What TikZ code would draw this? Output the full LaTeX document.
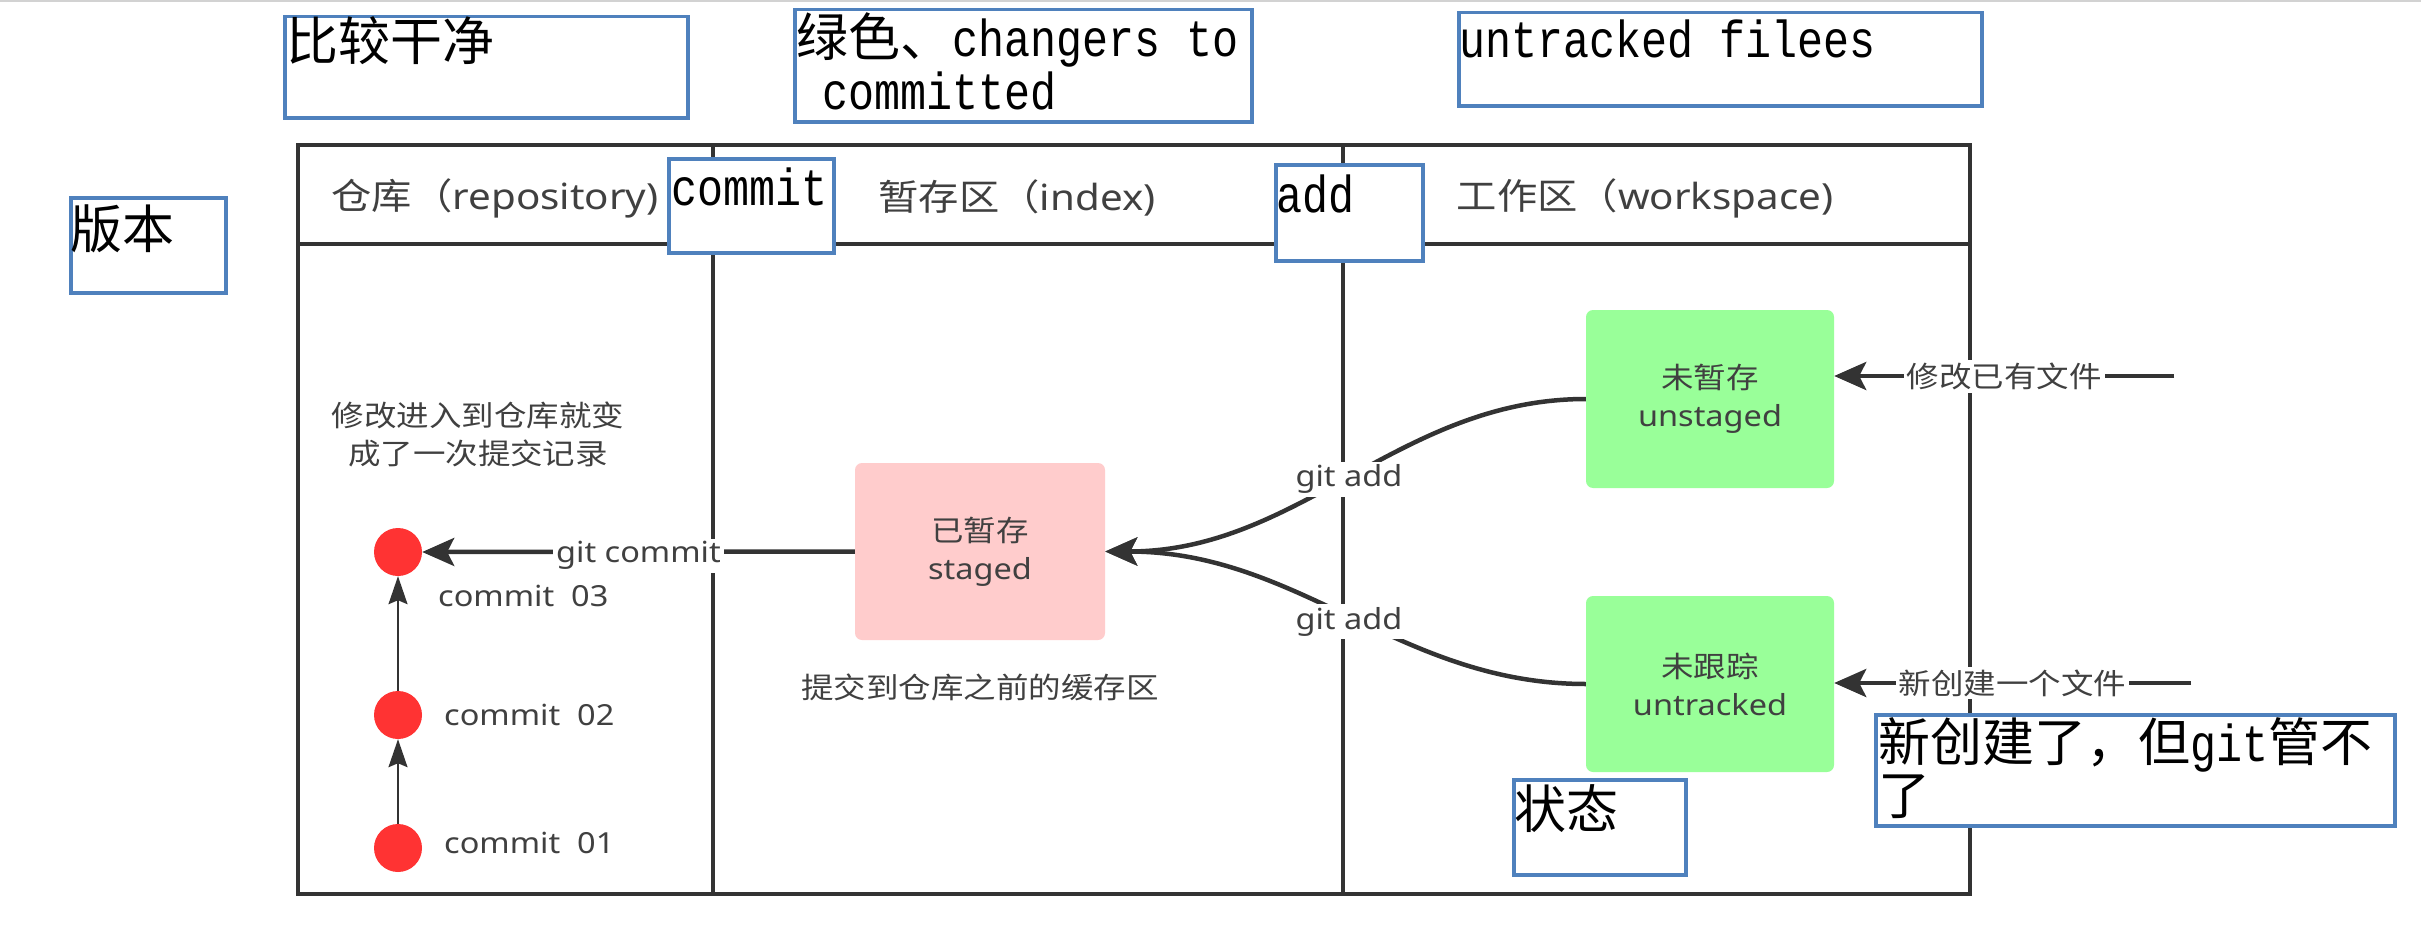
\documentclass[tikz,border=0pt]{standalone}
\usepackage{fontspec}
\setmainfont[FakeStretch=1.12]{Noto Sans}
\newfontfamily\zhfont[FakeStretch=1.12]{Noto Sans CJK SC}
\newfontfamily\annozh{Noto Sans CJK SC}
\newfontfamily\annolat[FakeStretch=0.834]{Liberation Mono}
\newcommand\zh[1]{{\zhfont #1}}
\newcommand\azh[1]{{\annozh #1}}
\newcommand\alat[1]{{\annolat #1}}
\newcommand\dsmall{\fontsize{29}{38}\selectfont}
\newcommand\dbig{\fontsize{36}{40}\selectfont}
\newcommand\abig{\fontsize{52}{56}\selectfont}
\usetikzlibrary{arrows.meta}
\definecolor{lineg}{HTML}{333333}
\definecolor{textg}{HTML}{404040}
\definecolor{commitred}{HTML}{FF3333}
\definecolor{stagedpink}{HTML}{FFCCCC}
\definecolor{workgreen}{HTML}{99FF99}
\definecolor{annoblue}{HTML}{4F81BD}
\tikzset{
 tbl/.style={line width=4.5pt, draw=lineg},
 div/.style={line width=3.5pt, draw=lineg},
 dtext/.style={text=textg, inner sep=0pt, font=\dsmall},
 hdr/.style={text=textg, inner sep=0pt, font=\dbig},
 lbl/.style={fill=white, text=textg, inner sep=3pt, font=\dsmall},
 gitlbl/.style={lbl, yshift=-4pt},
 statebox/.style={rounded corners=7pt, inner sep=0pt, align=center, text=textg, font=\dsmall},
 commitdot/.style={circle, fill=commitred, minimum size=48pt, inner sep=0pt},
 flowarrow/.style={line width=4.5pt, draw=lineg, -{Stealth[length=32pt,width=28pt,inset=7pt]}},
 histarrow/.style={line width=2pt, draw=lineg, -{Stealth[length=28pt,width=19pt,inset=4pt]}},
 annobox/.style={draw=annoblue, line width=3.5pt, fill=white, inner sep=0pt, anchor=north west},
 annotext/.style={inner sep=0pt, anchor=base west, text=black, font=\abig},
}
\begin{document}
\begin{tikzpicture}[x=1pt,y=-1pt]
\useasboundingbox (0,0) rectangle (2421,942);
\fill[white] (0,0) rectangle (2421,942);
\draw[gray!35, line width=2pt] (0,1) -- (2421,1);

% table
\coordinate (tl) at (298,145);
\coordinate (br) at (1970,894);
\draw[tbl] (tl) rectangle (br);
\draw[tbl] (298,244) -- (1970,244);
\draw[div] (713,145) -- (713,894);
\draw[div] (1343,145) -- (1343,894);

% headers
\node[hdr] (hrepo) at (495,198) {\zh{仓库（}repository)};
\node[hdr] (hindex) at (1017,198) {\zh{暂存区（}index)};
\node[hdr] (hwork) at (1645,198) {\zh{工作区（}workspace)};

% state boxes
\node[statebox, fill=stagedpink, minimum width=250pt, minimum height=177pt] (staged) at (980,551.5) {\zh{已暂存}\\staged};
\node[statebox, fill=workgreen, minimum width=248pt, minimum height=178pt] (unstaged) at (1710,399) {\zh{未暂存}\\unstaged};
\node[statebox, fill=workgreen, minimum width=248pt, minimum height=176pt] (untracked) at (1710,684) {\zh{未跟踪}\\untracked};

% commits
\node[commitdot] (c3) at (398,552) {};
\node[commitdot] (c2) at (398,715) {};
\node[commitdot] (c1) at (398,848) {};
\node[dtext, anchor=west] (l3) at (438,596) {commit~~03};
\node[dtext, anchor=west] (l2) at (444,715) {commit~~02};
\node[dtext, anchor=west] (l1) at (444,843) {commit~~01};

% notes
\node[dtext, align=center] (repnote) at (478,434) {\zh{修改进入到仓库就变}\\\zh{成了一次提交记录}};
\node[dtext] (stnote) at (980,687) {\zh{提交到仓库之前的缓存区}};

% connectors
\draw[histarrow] (c1) -- (c2);
\draw[histarrow] (c2) -- (c3);
\draw[flowarrow] (staged.west) -- node[gitlbl] (gc) {git commit} (c3.east);
\draw[flowarrow] (unstaged.west) .. controls (1400,399) and (1300,551.5) .. node[gitlbl, pos=0.5] (ga1) {git add} (staged.east);
\draw[flowarrow] (untracked.west) .. controls (1400,684) and (1300,551.5) .. node[gitlbl, pos=0.5] (ga2) {git add} (staged.east);
\coordinate (m1src) at (2174,376);
\coordinate (m2src) at (2191,683);
\draw[flowarrow] (m1src) -- node[lbl] (m1lbl) {\zh{修改已有文件}} (unstaged.east |- m1src);
\draw[flowarrow] (m2src) -- node[lbl] (m2lbl) {\zh{新创建一个文件}} (untracked.east |- m2src);

% annotations
\node[annobox, minimum width=403pt, minimum height=101pt] (a1) at (283,15) {};
\node[annobox, minimum width=457pt, minimum height=112pt] (a2) at (793,8) {};
\node[annobox, minimum width=523pt, minimum height=93pt] (a3) at (1457,11) {};
\node[annobox, minimum width=155pt, minimum height=95pt] (a4) at (69,196) {};
\node[annobox, minimum width=165pt, minimum height=94pt] (a5) at (667,157) {};
\node[annobox, minimum width=147pt, minimum height=96pt] (a6) at (1274,163) {};
\node[annobox, minimum width=172pt, minimum height=95pt] (a7) at (1512,778) {};
\node[annobox, minimum width=519pt, minimum height=111pt] (a8) at (1874,713) {};

\node[annotext] (a1t) at (286,61) {\azh{比较干净}};
\node[annotext] (a2t) at (796,57) {\azh{绿色、}\alat{changers to}};
\node[annotext] (a2u) at (822,110) {\alat{committed}};
\node[annotext] (a3t) at (1459,58) {\alat{untracked filees}};
\node[annotext] (a4t) at (70,248) {\azh{版本}};
\node[annotext] (a5t) at (671,205) {\alat{commit}};
\node[annotext] (a6t) at (1276,212) {\alat{add}};
\node[annotext] (a7t) at (1514,828) {\azh{状态}};
\node[annotext] (a8t) at (1878,761) {\azh{新创建了，但}\alat{git}\azh{管不}};
\node[annotext] (a8u) at (1878,814) {\azh{了}};
\end{tikzpicture}
\end{document}
